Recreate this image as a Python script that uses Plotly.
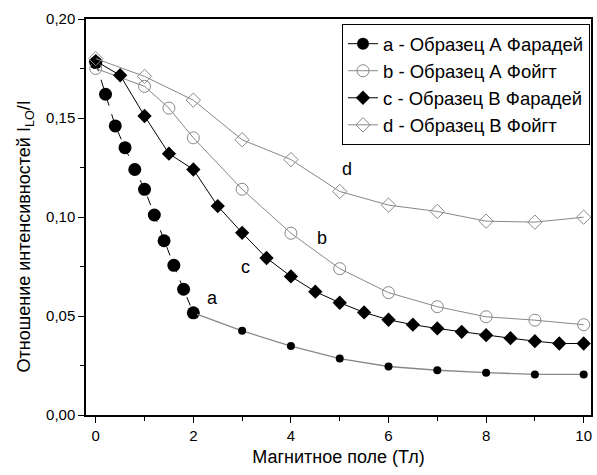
import plotly.graph_objects as go

# Series a - Образец A Фарадей (dense part, 0..2 T)
a1_x = [0, 0.2, 0.4, 0.6, 0.8, 1.0, 1.2, 1.4, 1.6, 1.8, 2.0]
a1_y = [0.178, 0.162, 0.146, 0.135, 0.124, 0.114, 0.101, 0.088, 0.0756, 0.0635, 0.0516]
# Series a (sparse part, 2..10 T)
a2_x = [2, 3, 4, 5, 6, 7, 8, 9, 10]
a2_y = [0.0516, 0.0425, 0.0348, 0.0285, 0.0245, 0.0226, 0.0214, 0.0205, 0.0205]
# Series b - Образец A Фойгт
b_x = [0, 1, 1.5, 2, 3, 4, 5, 6, 7, 8, 9, 10]
b_y = [0.175, 0.166, 0.155, 0.140, 0.114, 0.0918, 0.0739, 0.0618, 0.0547, 0.0496, 0.0479, 0.0456]
# Series c - Образец B Фарадей
c_x = [0, 0.5, 1, 1.5, 2, 2.5, 3, 3.5, 4, 4.5, 5, 5.5, 6, 6.5, 7, 7.5, 8, 8.5, 9, 9.5, 10]
c_y = [0.1787, 0.1716, 0.151, 0.132, 0.124, 0.1055, 0.092, 0.0793, 0.070, 0.0623, 0.0567,
       0.0518, 0.0481, 0.0456, 0.0437, 0.042, 0.0403, 0.0388, 0.0373, 0.0361, 0.0361]
# Series d - Образец B Фойгт
d_x = [0, 1, 2, 3, 4, 5, 6, 7, 8, 9, 10]
d_y = [0.180, 0.171, 0.159, 0.139, 0.129, 0.1129, 0.106, 0.1028, 0.0979, 0.0974, 0.0999]

names = ["a - Образец А Фарадей", "b - Образец А Фойгт", "c - Образец В Фарадей", "d - Образец В Фойгт"]
curve_labels = ["a", "b", "c", "d"]
label_x = [2.39, 4.63, 3.06, 5.14]
label_y = [0.059, 0.0894, 0.075, 0.124]

x_ticks = [0, 2, 4, 6, 8, 10]
y_ticks = [0.0, 0.05, 0.10, 0.15, 0.20]

GRAY = "#888888"
FONT = "Liberation Sans, Arial, sans-serif"

fig = go.Figure()

# a: dense part (dashed black line, big markers)
fig.add_trace(go.Scatter(x=a1_x, y=a1_y, mode="lines+markers", showlegend=False,
                         line=dict(color="black", width=1, dash="dash"),
                         marker=dict(symbol="circle", size=13, color="black")))
# a: sparse part (gray line, small markers)
fig.add_trace(go.Scatter(x=a2_x, y=a2_y, mode="lines+markers", showlegend=False,
                         line=dict(color=GRAY, width=1.3),
                         marker=dict(symbol="circle", size=8, color="black")))
# legend entry for a
fig.add_trace(go.Scatter(x=[None], y=[None], mode="lines+markers", name=names[0],
                         line=dict(color="black", width=1),
                         marker=dict(symbol="circle", size=12, color="black")))
# b
fig.add_trace(go.Scatter(x=b_x, y=b_y, mode="lines+markers", name=names[1],
                         line=dict(color=GRAY, width=1),
                         marker=dict(symbol="circle-open", size=12, color=GRAY, line=dict(width=1))))
# c
fig.add_trace(go.Scatter(x=c_x, y=c_y, mode="lines+markers", name=names[2],
                         line=dict(color="black", width=1),
                         marker=dict(symbol="diamond", size=11, color="black")))
# d
fig.add_trace(go.Scatter(x=d_x, y=d_y, mode="lines+markers", name=names[3],
                         line=dict(color=GRAY, width=1),
                         marker=dict(symbol="diamond-open", size=11, color=GRAY, line=dict(width=1))))

for t, lx, ly in zip(curve_labels, label_x, label_y):
    fig.add_annotation(x=lx, y=ly, text=t, showarrow=False,
                       font=dict(family=FONT, size=18, color="black"))

# y-axis title as a rotated annotation
fig.add_annotation(xref="paper", yref="paper", x=-0.12, y=0.452, xanchor="center", yanchor="middle",
                   text="Отношение интенсивностей I<sub>LO</sub>/I", textangle=-90, showarrow=False,
                   font=dict(family=FONT, size=18, color="black"))

fig.update_layout(
    width=597, height=475,
    margin=dict(l=86, r=4, t=19, b=60),
    paper_bgcolor="white", plot_bgcolor="white",
    separators=", ",
    font=dict(family=FONT, size=15, color="black"),
    legend=dict(x=0.998, xanchor="right", y=0.987, yanchor="top",
                bordercolor="black", borderwidth=1, bgcolor="white",
                font=dict(family=FONT, size=18.5, color="black"),
                tracegroupgap=0),
    xaxis=dict(range=[-0.2, 10.15], tickvals=x_ticks, ticks="outside", ticklen=6,
               tickwidth=1, tickcolor="black", showline=True, linecolor="black",
               linewidth=1.5, mirror=True, showgrid=False, zeroline=False,
               minor=dict(dtick=1, ticks="outside", ticklen=4, tickcolor="black"),
               title=dict(text="Магнитное поле (Тл)", font=dict(size=18), standoff=8),
               tickfont=dict(size=15)),
    yaxis=dict(range=[0, 0.2], tickvals=y_ticks, tickformat=".2f", ticks="outside", ticklen=6,
               tickwidth=1, tickcolor="black", showline=True, linecolor="black",
               linewidth=1.5, mirror=True, showgrid=False, zeroline=False,
               minor=dict(dtick=0.025, ticks="outside", ticklen=4, tickcolor="black"),
               tickfont=dict(size=15)),
)

fig.write_html("out.html")
